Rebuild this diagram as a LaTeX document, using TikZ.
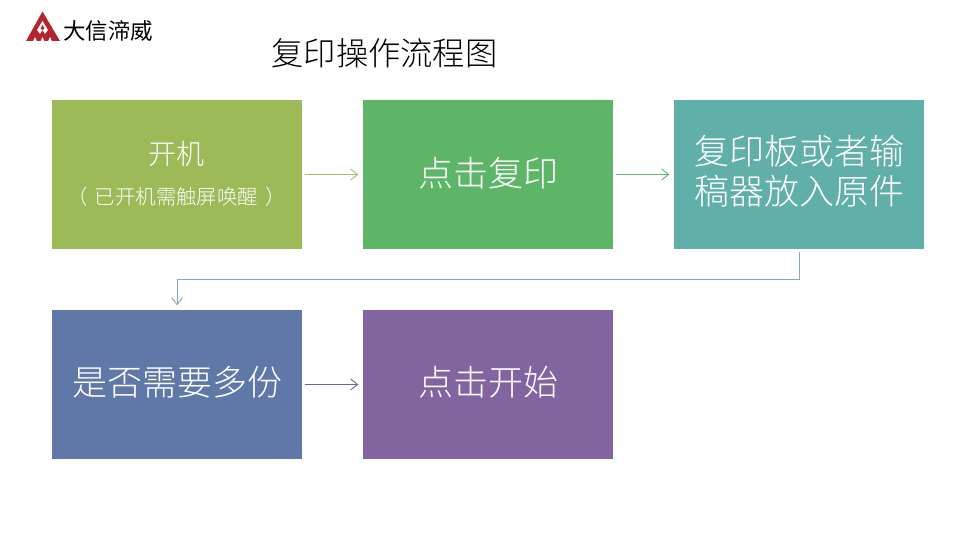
\documentclass[tikz,border=0pt]{standalone}
\usepackage{fontspec}
\usetikzlibrary{arrows.meta}
\setmainfont{Noto Sans CJK SC Light}[BoldFont=Noto Sans CJK SC]
\definecolor{boxa}{HTML}{9CBA58}
\definecolor{boxb}{HTML}{5DB668}
\definecolor{boxc}{HTML}{60AFA8}
\definecolor{boxd}{HTML}{5F78A8}
\definecolor{boxe}{HTML}{8264A0}
\definecolor{linka}{HTML}{A4BE6C}
\definecolor{linkb}{HTML}{63B570}
\definecolor{linkc}{HTML}{84A6BC}
\definecolor{linkd}{HTML}{6E6496}
\definecolor{logored}{HTML}{B0262C}
\newcommand{\upby}[2]{\raisebox{#1}{#2}}
\tikzset{
  flowbox/.style={minimum width=250pt,minimum height=149pt,inner sep=0pt,align=center,text=white,font=\fontsize{35}{40}\selectfont},
  link/.style={line width=1pt,-{Straight Barb[length=7pt,width=11pt,line width=0.9pt]},shorten <=2.5pt,shorten >=4.5pt},
}
\begin{document}
\begin{tikzpicture}[x=1pt,y=-1pt]
\useasboundingbox (0,0) rectangle (960,540);
\fill[white] (0,0) rectangle (960,540);
% logo
\fill[logored] (42.5,11.5) -- (60,41) -- (26,41) -- cycle;
\fill[white] (42.5,21) -- (37,30) -- (40,34) -- (42.5,30) -- (45,34) -- (48,30) -- cycle;
\fill[logored] (42.5,25) -- (40.5,28.5) -- (42.5,30) -- (44.5,28.5) -- cycle;
\fill[white] (33,41.5) -- (35,37) -- (37,41.5) -- cycle;
\fill[white] (40.5,41.5) -- (42.5,37) -- (44.5,41.5) -- cycle;
\fill[white] (48,41.5) -- (50,37) -- (52,41.5) -- cycle;
\node[text=black,inner sep=0pt,font=\fontsize{22.5}{22.5}\selectfont\bfseries] (logotext) at (108,31) {大信渧威};
% title
\node[inner sep=0pt,text=black,font=\fontsize{32.3}{32.3}\selectfont] (title) at (384.5,53) {复印操作流程图};
% boxes
\node[flowbox,fill=boxa] (a) at (177,174.5) {};
\node[flowbox,fill=boxb] (b) at (488,174.5) {\upby{6pt}{点击复印}};
\node[flowbox,fill=boxc] (c) at (799,174.5) {\upby{10pt}{复印板或者输}\\\upby{10pt}{稿器放入原件}};
\node[flowbox,fill=boxd] (d) at (177,384.5) {\upby{8pt}{是否需要多份}};
\node[flowbox,fill=boxe] (e) at (488,384.5) {\upby{8pt}{点击开始}};
\node[text=white,inner sep=0pt,font=\fontsize{28}{28}\selectfont] (atop) at (176,154) {开机};
\node[text=white,inner sep=0pt,font=\fontsize{20.4}{20.4}\selectfont] (asub) at (176.5,197) {（\kern7pt 已开机需触屏唤醒\kern7pt ）};
% connectors
\coordinate (bend) at (488,279.5);
\draw[link,linka] (a) -- (b);
\draw[link,linkb] (b) -- (c);
\draw[link,linkc] (c.south) |- (bend) -| (d.north);
\draw[link,linkd] (d) -- (e);
\end{tikzpicture}
\end{document}
